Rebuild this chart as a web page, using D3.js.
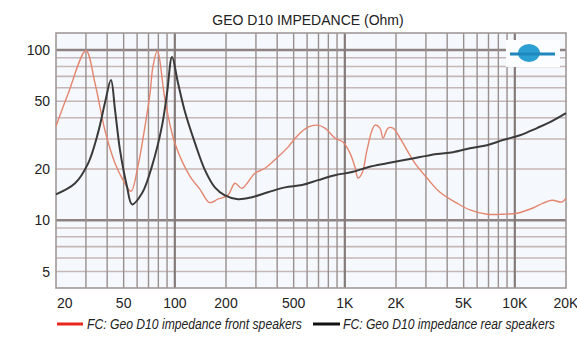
<!DOCTYPE html>
<html>
<head>
<meta charset="utf-8">
<script src="https://cdn.jsdelivr.net/npm/d3@7"></script>
<style>
  body { margin: 0; background: #fff; }
  svg { display: block; font-family: "Liberation Sans", Arial, sans-serif; }
</style>
</head>
<body>
<div id="chart"></div>
<script>
// frequency (Hz) / impedance (Ohm)
const frontFreq = [20, 23.5, 30, 33.9, 38.8, 44.5, 49.6, 55.2, 60.7, 66.8, 71.5, 74.4, 79, 87.6, 100, 122.8, 140, 160, 179, 205, 226, 248, 296, 339, 404, 463, 530, 607, 686, 764, 875, 975, 1072, 1148, 1195, 1262, 1350, 1446, 1505, 1610, 1678, 1796, 1920, 2112, 2322, 2588, 3044, 3630, 4570, 5448, 6860, 8516, 10300, 12790, 14640, 16550, 18940, 20000];
const frontZ    = [35.7, 55, 99, 64, 33.8, 21.6, 17.2, 14.8, 20.8, 35.7, 55.8, 80.5, 99, 50.8, 28.4, 18.1, 15.3, 12.7, 13.3, 14.0, 16.5, 15.4, 18.9, 20.2, 23.5, 26.9, 31.6, 35.2, 36.2, 34.8, 30.4, 28.8, 24.8, 20.5, 17.7, 18.9, 25.8, 33.8, 36.2, 34.8, 30.4, 34.8, 34.8, 30.4, 25.8, 21.6, 17.7, 14.6, 12.6, 11.5, 10.85, 10.85, 11.0, 11.8, 12.6, 13.1, 12.8, 13.5];

const rearFreq = [20, 25.9, 30.9, 35.3, 38.8, 42.1, 44.5, 47.6, 52.3, 56, 64.1, 73.4, 84, 90, 96.3, 104.4, 114.8, 131.4, 150.4, 172, 197, 235, 284, 353, 445, 560, 695, 875, 1102, 1368, 1770, 2198, 2768, 3484, 4328, 5448, 6860, 8516, 10720, 13500, 16100, 20000];
const rearZ    = [14.2, 16.5, 21.6, 32.5, 48.8, 66.6, 44.4, 25.8, 15.8, 12.4, 14.4, 20.8, 35.7, 55.8, 91, 64, 43.2, 28.4, 19.7, 15.6, 14.0, 13.3, 13.65, 14.6, 15.6, 16.1, 17.2, 18.4, 19.2, 20.5, 21.6, 22.5, 23.5, 24.5, 25.1, 26.5, 27.6, 29.6, 31.6, 34.8, 37.7, 42.6];

const xTicks = [20, 50, 100, 200, 500, 1000, 2000, 5000, 10000, 20000];
const xTickLabels = ['20', '50', '100', '200', '500', '1K', '2K', '5K', '10K', '20K'];
const yTicks = [5, 10, 20, 50, 100];

const seriesNames = ['FC: Geo D10 impedance front speakers', 'FC: Geo D10 impedance rear speakers'];
const title = 'GEO D10 IMPEDANCE (Ohm)';

const W = 577, H = 351;
const plot = { left: 56, right: 566, top: 33, bottom: 288 };

const svg = d3.select('#chart').append('svg')
  .attr('width', W)
  .attr('height', H);

const x = d3.scaleLog().domain([20, 20000]).range([plot.left, plot.right]);
const y = d3.scaleLog().domain([4, 125.9]).range([plot.bottom, plot.top]);

// plot background
svg.append('rect')
  .attr('x', plot.left).attr('y', plot.top)
  .attr('width', plot.right - plot.left).attr('height', plot.bottom - plot.top)
  .attr('fill', '#f5f8fc');

// grid
const vLines = [];
[10, 100, 1000, 10000].forEach(d => {
  for (let k = 1; k < 10; k++) {
    const f = d * k;
    if (f > 20 && f < 20000) vLines.push(f);
  }
});
const hLines = [];
[1, 10, 100].forEach(d => {
  for (let k = 1; k < 10; k++) {
    const v = d * k;
    if (v > 4 && v < 125) hLines.push(v);
  }
});

const grid = svg.append('g');
grid.selectAll('.h')
  .data(hLines)
  .enter().append('line')
  .attr('x1', plot.left).attr('x2', plot.right)
  .attr('y1', d => y(d)).attr('y2', d => y(d))
  .attr('stroke', d => (d === 10 || d === 100) ? '#8f8282' : '#c7b6b6')
  .attr('stroke-width', d => (d === 10 || d === 100) ? 2.6 : 1.6);

grid.selectAll('.v')
  .data(vLines)
  .enter().append('line')
  .attr('y1', plot.top).attr('y2', plot.bottom)
  .attr('x1', d => x(d)).attr('x2', d => x(d))
  .attr('stroke', d => (d === 100 || d === 1000 || d === 10000) ? '#857a7a' : '#9a8f8f')
  .attr('stroke-width', d => (d === 100 || d === 1000 || d === 10000) ? 2.2 : 1.4);

// frame
svg.append('rect')
  .attr('x', plot.left).attr('y', plot.top)
  .attr('width', plot.right - plot.left).attr('height', plot.bottom - plot.top)
  .attr('fill', 'none')
  .attr('stroke', '#a09898')
  .attr('stroke-width', 1.6);

// logo
const logo = svg.append('g');
logo.append('rect').attr('x', 506).attr('y', 40).attr('width', 54).attr('height', 27).attr('fill', '#fbfdfe');
logo.append('ellipse').attr('cx', 529).attr('cy', 53).attr('rx', 11).attr('ry', 9).attr('fill', '#2c9fd2');
logo.append('line').attr('x1', 510).attr('x2', 555).attr('y1', 54).attr('y2', 54)
  .attr('stroke', '#1f86be').attr('stroke-width', 3);

// curves
const line = d3.line()
  .x(d => x(d[0]))
  .y(d => y(d[1]))
  .curve(d3.curveCatmullRom.alpha(0.5));

svg.append('path')
  .datum(d3.zip(frontFreq, frontZ))
  .attr('d', line)
  .attr('fill', 'none')
  .attr('stroke', '#e4866f')
  .attr('stroke-width', 1.4);

svg.append('path')
  .datum(d3.zip(rearFreq, rearZ))
  .attr('d', line)
  .attr('fill', 'none')
  .attr('stroke', '#3a3a3a')
  .attr('stroke-width', 2);

// axes labels
svg.append('g').selectAll('text')
  .data(yTicks)
  .enter().append('text')
  .attr('x', 50)
  .attr('y', d => y(d) + 5)
  .attr('text-anchor', 'end')
  .attr('font-size', 14)
  .attr('fill', '#222')
  .text(d => d);

svg.append('g').selectAll('text')
  .data(xTicks)
  .enter().append('text')
  .attr('x', (d, i) => i === 0 ? x(d) + 1 : x(d))
  .attr('y', 308)
  .attr('text-anchor', (d, i) => i === 0 ? 'start' : 'middle')
  .attr('font-size', 14)
  .attr('fill', '#222')
  .text((d, i) => xTickLabels[i]);

// title
svg.append('text')
  .attr('x', 308).attr('y', 25)
  .attr('text-anchor', 'middle')
  .attr('font-size', 14)
  .attr('fill', '#222')
  .text(title);

// legend (condensed italic: squeeze horizontally to the reference width)
const legend = [
  { name: seriesNames[0], color: '#e8261c', x0: 57, x1: 83, tx: 87, tw: 215 },
  { name: seriesNames[1], color: '#111', x0: 313, x1: 340, tx: 343, tw: 212 }
];
const lg = svg.append('g');
legend.forEach(l => {
  lg.append('line')
    .attr('x1', l.x0).attr('x2', l.x1)
    .attr('y1', 324).attr('y2', 324)
    .attr('stroke', l.color).attr('stroke-width', 3);
  const g = lg.append('g');
  const t = g.append('text')
    .attr('x', 0).attr('y', 0)
    .attr('font-size', 14.5)
    .attr('font-style', 'italic')
    .attr('font-family', '"Liberation Sans Narrow", "Liberation Sans", Arial, sans-serif')
    .attr('fill', '#222')
    .text(l.name);
  const w = t.node().getComputedTextLength();
  g.attr('transform', `translate(${l.tx},329) scale(${l.tw / w},1)`);
});
</script>
</body>
</html>
